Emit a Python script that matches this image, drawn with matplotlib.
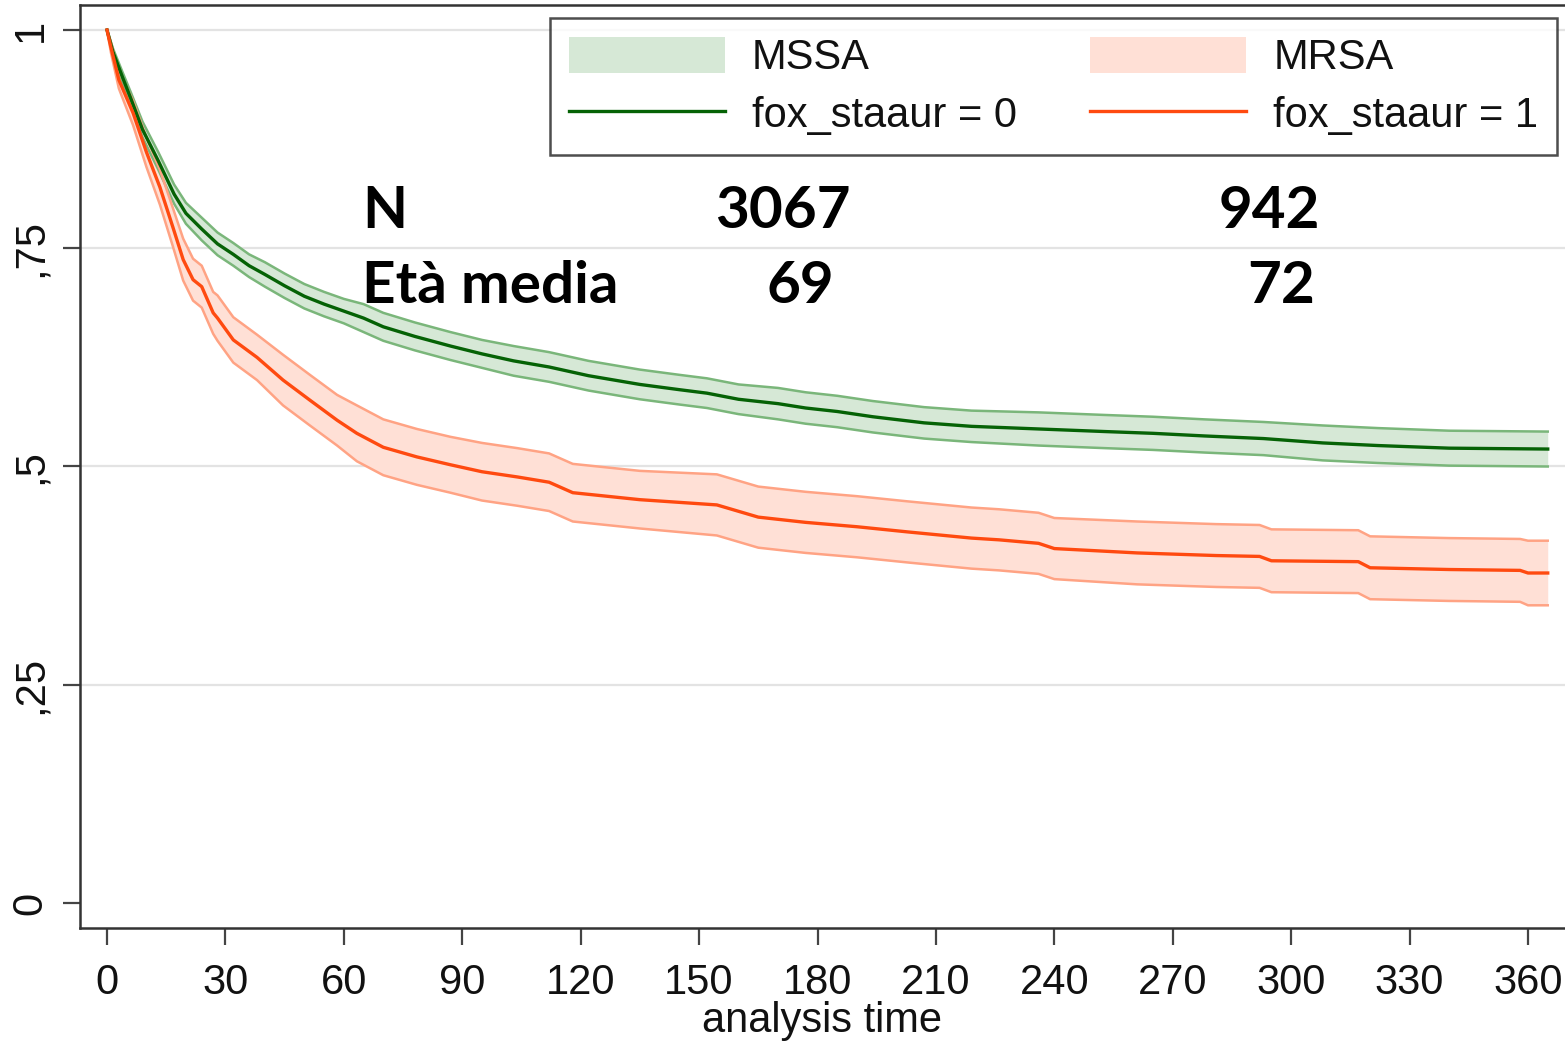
import matplotlib
matplotlib.use("Agg")
import matplotlib.pyplot as plt
from matplotlib.patches import Patch
from matplotlib.lines import Line2D
from matplotlib import font_manager

# ---------------- data ----------------
t_mssa = [0, 1.5, 4, 6, 9, 13, 17, 20, 24, 28, 32, 36, 40, 45, 50, 55, 60, 65, 70, 78,
          87, 95, 103, 112, 122, 135, 145, 152, 160, 170, 177, 185, 194, 207, 219, 236,
          253, 265, 278, 293, 308, 322, 340, 365]
s_mssa = [1.0, 0.975, 0.945, 0.922, 0.886, 0.850, 0.812, 0.790, 0.772, 0.755, 0.743, 0.730,
          0.720, 0.707, 0.695, 0.686, 0.678, 0.670, 0.660, 0.649, 0.638, 0.629, 0.621, 0.614,
          0.604, 0.594, 0.588, 0.584, 0.577, 0.572, 0.567, 0.563, 0.557, 0.550, 0.546, 0.543,
          0.540, 0.538, 0.535, 0.532, 0.527, 0.524, 0.521, 0.520]
lo_mssa = [1.0, 0.971, 0.939, 0.915, 0.877, 0.840, 0.801, 0.778, 0.759, 0.742, 0.730, 0.717,
           0.706, 0.693, 0.681, 0.672, 0.664, 0.654, 0.644, 0.633, 0.622, 0.613, 0.604, 0.597,
           0.587, 0.577, 0.571, 0.567, 0.560, 0.554, 0.549, 0.545, 0.539, 0.532, 0.528, 0.524,
           0.521, 0.519, 0.516, 0.513, 0.507, 0.504, 0.501, 0.500]
hi_mssa = [1.0, 0.979, 0.951, 0.929, 0.895, 0.860, 0.823, 0.802, 0.785, 0.768, 0.756, 0.743,
           0.734, 0.721, 0.709, 0.700, 0.692, 0.686, 0.676, 0.665, 0.654, 0.645, 0.638, 0.631,
           0.621, 0.611, 0.605, 0.601, 0.594, 0.590, 0.585, 0.581, 0.575, 0.568, 0.564, 0.562,
           0.559, 0.557, 0.554, 0.551, 0.547, 0.544, 0.541, 0.540]

t_mrsa = [0, 1, 3, 6.6, 10, 13.4, 16.7, 19.3, 21.8, 24, 26.9, 28, 32, 38, 44.6, 51.4, 58.3,
          63.3, 70, 78.5, 87, 95, 104, 112, 118, 135, 154.5, 165, 177, 190, 203, 219, 226,
          236, 240, 261, 281, 292, 295, 317, 320, 340, 358, 360, 365]
s_mrsa = [1.0, 0.980, 0.943, 0.905, 0.860, 0.820, 0.774, 0.737, 0.714, 0.706, 0.676, 0.670,
          0.645, 0.625, 0.599, 0.576, 0.553, 0.538, 0.522, 0.511, 0.502, 0.494, 0.488, 0.482,
          0.470, 0.462, 0.456, 0.442, 0.436, 0.431, 0.425, 0.418, 0.416, 0.412, 0.406, 0.401,
          0.398, 0.397, 0.392, 0.391, 0.384, 0.382, 0.381, 0.378, 0.378]
lo_mrsa = [1.0, 0.974, 0.933, 0.891, 0.843, 0.800, 0.752, 0.713, 0.690, 0.682, 0.652, 0.644,
           0.619, 0.599, 0.570, 0.547, 0.524, 0.506, 0.490, 0.479, 0.470, 0.461, 0.455, 0.449,
           0.437, 0.429, 0.421, 0.407, 0.401, 0.396, 0.390, 0.383, 0.381, 0.377, 0.371, 0.365,
           0.362, 0.361, 0.356, 0.355, 0.348, 0.346, 0.345, 0.341, 0.341]
hi_mrsa = [1.0, 0.986, 0.953, 0.919, 0.877, 0.840, 0.796, 0.761, 0.738, 0.730, 0.700, 0.696,
           0.671, 0.651, 0.628, 0.605, 0.582, 0.570, 0.554, 0.543, 0.534, 0.527, 0.521, 0.515,
           0.503, 0.495, 0.491, 0.477, 0.471, 0.466, 0.460, 0.453, 0.451, 0.447, 0.441, 0.437,
           0.434, 0.433, 0.428, 0.427, 0.420, 0.418, 0.417, 0.415, 0.415]

x_ticks = [0, 30, 60, 90, 120, 150, 180, 210, 240, 270, 300, 330, 360]
y_ticks = [0, 0.25, 0.5, 0.75, 1.0]
y_ticklabels = ["0", ",25", ",5", ",75", "1"]

legend_labels = ["MSSA", "fox_staaur = 0", "MRSA", "fox_staaur = 1"]
stat_rows = ["N", "Età media"]
stat_mssa = ["3067", "69"]
stat_mrsa = ["942", "72"]

# ---------------- styling ----------------
GREEN = "#056205"
GREEN_FILL = "#d6e8d6"
GREEN_EDGE = "#7ab67a"
RED = "#ff4a10"
RED_FILL = "#ffe0d6"
RED_EDGE = "#ffa384"

avail = {f.name for f in font_manager.fontManager.ttflist}
base_font = "Liberation Sans" if "Liberation Sans" in avail else "DejaVu Sans"
bold_font = "Lato" if "Lato" in avail else "DejaVu Sans"
plt.rcParams["font.family"] = [base_font, "DejaVu Sans"]

W, H = 1565, 1041
fig = plt.figure(figsize=(W / 100, H / 100), dpi=100)
ax_left = 80 / W
ax_bottom = (H - 928) / H
ax_top = (H - 5) / H
ax = fig.add_axes([ax_left, ax_bottom, 1.0 - ax_left, ax_top - ax_bottom])

# x mapping: 0 -> px 107, 360 -> px 1528
pxd = (1528 - 107) / 360.0
ax.set_xlim(-(107 - 80) / pxd, (W - 107) / pxd)
# y mapping: 1 -> py 30, 0 -> py 903
pyu = 903 - 30
ax.set_ylim(-(928 - 903) / pyu, 1 + (30 - 5) / pyu)

# gridlines
for yv in [0.25, 0.5, 0.75, 1.0]:
    ax.axhline(yv, color="#e3e3e3", lw=1.6, zorder=0)

# bands
ax.fill_between(t_mssa, lo_mssa, hi_mssa, color=GREEN_FILL, lw=0, zorder=1)
ax.fill_between(t_mrsa, lo_mrsa, hi_mrsa, color=RED_FILL, lw=0, zorder=1)
for tt, yy, c in [(t_mssa, lo_mssa, GREEN_EDGE), (t_mssa, hi_mssa, GREEN_EDGE),
                  (t_mrsa, lo_mrsa, RED_EDGE), (t_mrsa, hi_mrsa, RED_EDGE)]:
    ax.plot(tt, yy, color=c, lw=1.8, zorder=2, solid_joinstyle="round")

ax.plot(t_mssa, s_mssa, color=GREEN, lw=2.4, zorder=3, solid_joinstyle="round")
ax.plot(t_mrsa, s_mrsa, color=RED, lw=2.4, zorder=3, solid_joinstyle="round")

# spines
for s in ["left", "bottom", "top"]:
    ax.spines[s].set_linewidth(1.8)
    ax.spines[s].set_color("#333333")
ax.spines["right"].set_visible(False)

ax.set_xticks(x_ticks)
ax.set_xticklabels([str(v) for v in x_ticks])
ax.set_yticks(y_ticks)
ax.set_yticklabels(y_ticklabels, rotation=90, va="center")
ax.tick_params(axis="both", direction="out", length=12, width=1.6, color="#444444",
               labelsize=30, labelcolor="#111111")
ax.tick_params(axis="x", pad=13.5)
ax.tick_params(axis="y", pad=9)
ax.set_xlabel("analysis time", fontsize=30, color="#111111", va="top")
ax.xaxis.set_label_coords(0.5, (928 - 1001) / (928 - 5))

# legend
handles = [Patch(facecolor=GREEN_FILL, edgecolor="none"),
           Line2D([0], [0], color=GREEN, lw=2.4),
           Patch(facecolor=RED_FILL, edgecolor="none"),
           Line2D([0], [0], color=RED, lw=2.4)]
ax_w = W - 80
ax_h = 928 - 5
leg = ax.legend(handles, legend_labels, ncol=2, loc="upper right",
                bbox_to_anchor=((1557 - 80) / ax_w, (928 - 18) / ax_h),
                fontsize=30, handlelength=3.75, handleheight=0.95, handletextpad=0.65,
                columnspacing=1.75, labelspacing=0.4, borderpad=0.45, borderaxespad=0,
                fancybox=False, frameon=True)
leg.get_frame().set_edgecolor("#222222")
leg.get_frame().set_linewidth(1.8)
for txt in leg.get_texts():
    txt.set_color("#111111")

# bold annotation text
def tx(px):
    return (px - 107) / pxd

def ty(py):
    return (903 - py) / pyu

bold = dict(fontsize=42, fontweight="bold", family=[bold_font, "DejaVu Sans"], color="black",
            va="baseline")
ax.text(tx(362), ty(228), stat_rows[0], ha="left", **bold)
ax.text(tx(362), ty(303), stat_rows[1], ha="left", **bold)
ax.text(tx(783), ty(228), stat_mssa[0], ha="center", **bold)
ax.text(tx(800), ty(303), stat_mssa[1], ha="center", **bold)
ax.text(tx(1269), ty(228), stat_mrsa[0], ha="center", **bold)
ax.text(tx(1281), ty(303), stat_mrsa[1], ha="center", **bold)

fig.savefig("out.png", dpi=100)
